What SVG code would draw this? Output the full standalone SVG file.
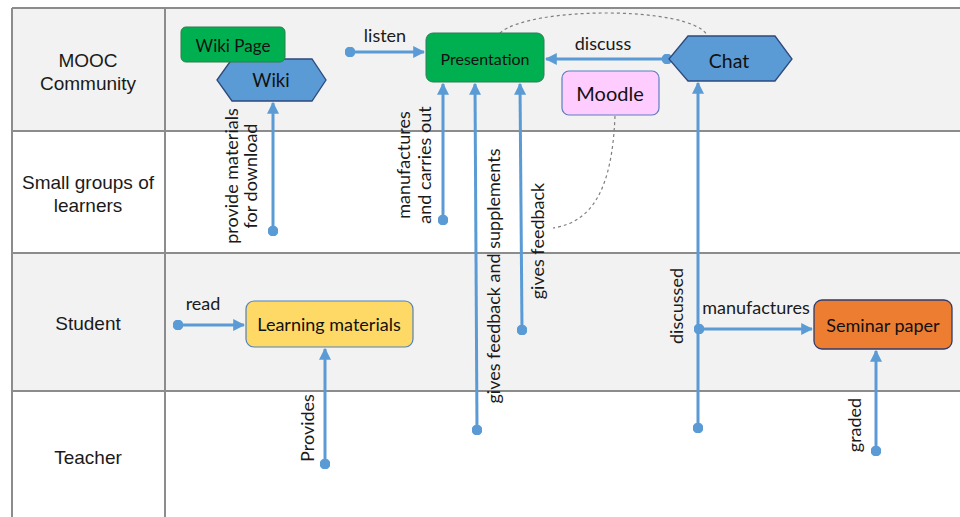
<svg xmlns="http://www.w3.org/2000/svg" width="960" height="517" viewBox="0 0 960 517">
<defs>
<style>
.lane{font-family:"Liberation Sans",Arial,sans-serif;font-size:19px;fill:#1a1a1a;text-anchor:middle}
.grid{stroke:#8c8c8c;stroke-width:2;fill:none}
.lbl{font-family:"Lato","Open Sans","Liberation Sans",sans-serif;font-size:18px;fill:#1a1a1a}
.ntx{font-family:"Lato","Open Sans","Liberation Sans",sans-serif;fill:#111;text-anchor:middle;dominant-baseline:central}
.conn{stroke:#5b9bd5;stroke-width:3;fill:none;marker-end:url(#arr);marker-start:url(#dot)}
.dash{stroke:#7f7f7f;stroke-width:1.2;fill:none;stroke-dasharray:3 3}
</style>
<marker id="arr" viewBox="0 0 10 10" refX="9" refY="5" markerWidth="4" markerHeight="4" markerUnits="strokeWidth" orient="auto">
<path d="M0,0 L10,5 L0,10 z" fill="#5b9bd5"/>
</marker>
<marker id="dot" viewBox="0 0 10 10" refX="5" refY="5" markerWidth="3.6" markerHeight="3.6" markerUnits="strokeWidth" orient="auto">
<circle cx="5" cy="5" r="5" fill="#5b9bd5"/>
</marker>
</defs>
<rect width="960" height="517" fill="#ffffff"/>
<g id="lanes">
<rect x="12" y="8" width="948" height="123" fill="#f2f2f2"/>
<rect x="12" y="253" width="948" height="138" fill="#f2f2f2"/>
<path class="grid" d="M12 8 H960 M12 131 H960 M12 253 H960 M12 391 H960 M12 8 V517 M165 8 V517"/>
<text class="lane" x="88" y="67">MOOC</text>
<text class="lane" x="88" y="90">Community</text>
<text class="lane" x="88" y="189">Small groups of</text>
<text class="lane" x="88" y="212">learners</text>
<text class="lane" x="88" y="330">Student</text>
<text class="lane" x="88" y="464">Teacher</text>
</g>
<g id="connectors">
<path class="dash" d="M500 33 C530 6, 690 6, 707 35"/>
<path class="dash" d="M615 116 C612 190, 592 222, 553 228"/>
<path class="conn" d="M350 52 H424"/>
<path class="conn" d="M667 59 H546"/>
<path class="conn" d="M273 231 V103"/>
<path class="conn" d="M443 220 V84"/>
<path class="conn" d="M477 430 L475 84"/>
<path class="conn" d="M522 330 L520 84"/>
<path class="conn" d="M698 428 V83"/>
<path class="conn" d="M699 329 H812"/>
<path class="conn" d="M178 325 H244"/>
<path class="conn" d="M325 464 V349"/>
<path class="conn" d="M876 451 V351"/>
<text class="lbl" x="385" y="42" text-anchor="middle">listen</text>
<text class="lbl" x="603" y="50" text-anchor="middle">discuss</text>
<text class="lbl" x="203" y="310" text-anchor="middle">read</text>
<text class="lbl" x="756" y="314" text-anchor="middle">manufactures</text>
<text class="lbl" text-anchor="middle" transform="translate(238,176) rotate(-90)">provide materials</text>
<text class="lbl" text-anchor="middle" transform="translate(257,176) rotate(-90)">for download</text>
<text class="lbl" text-anchor="middle" transform="translate(410,165) rotate(-90)">manufactures</text>
<text class="lbl" text-anchor="middle" transform="translate(431,165) rotate(-90)">and carries out</text>
<text class="lbl" text-anchor="middle" transform="translate(500,276) rotate(-90)">gives feedback and supplements</text>
<text class="lbl" text-anchor="middle" transform="translate(544,241) rotate(-90)">gives feedback</text>
<text class="lbl" text-anchor="middle" transform="translate(683,306) rotate(-90)">discussed</text>
<text class="lbl" text-anchor="middle" transform="translate(314,428) rotate(-90)">Provides</text>
<text class="lbl" text-anchor="middle" transform="translate(861,425) rotate(-90)">graded</text>
</g>
<g id="wiki">
<polygon points="217,80 232,59 312,59 326,80 312,101 232,101" fill="#5b9bd5" stroke="#2e4a7d" stroke-width="1.3"/>
<text class="ntx" x="271" y="80" font-size="18.5">Wiki</text>
</g>
<g id="wikipage">
<rect x="181" y="27" width="104" height="35" rx="5" fill="#00b050" stroke="#2e7d4a" stroke-width="1"/>
<text class="ntx" x="233" y="45" font-size="17">Wiki Page</text>
</g>
<g id="presentation">
<rect x="426" y="33" width="118" height="49" rx="7" fill="#00b050" stroke="#2f7d5a" stroke-width="1"/>
<text class="ntx" x="485" y="58" font-size="16">Presentation</text>
</g>
<g id="chat">
<polygon points="669,59 688,36 775,36 792,59 775,81 688,81" fill="#5b9bd5" stroke="#2e4a7d" stroke-width="1.3"/>
<text class="ntx" x="729" y="60" font-size="19.5">Chat</text>
</g>
<g id="moodle">
<rect x="562" y="71" width="97" height="44" rx="7" fill="#ffccff" stroke="#5b7fbf" stroke-width="1.2"/>
<text class="ntx" x="610" y="93" font-size="20">Moodle</text>
</g>
<g id="learning">
<rect x="246" y="301" width="167" height="46" rx="8" fill="#ffd966" stroke="#4f81bd" stroke-width="1.2"/>
<text class="ntx" x="329" y="324" font-size="18">Learning materials</text>
</g>
<g id="seminar">
<rect x="814" y="300" width="138" height="49" rx="8" fill="#ed7d31" stroke="#2f3b6b" stroke-width="1.3"/>
<text class="ntx" x="883" y="325" font-size="18">Seminar paper</text>
</g>
</svg>
